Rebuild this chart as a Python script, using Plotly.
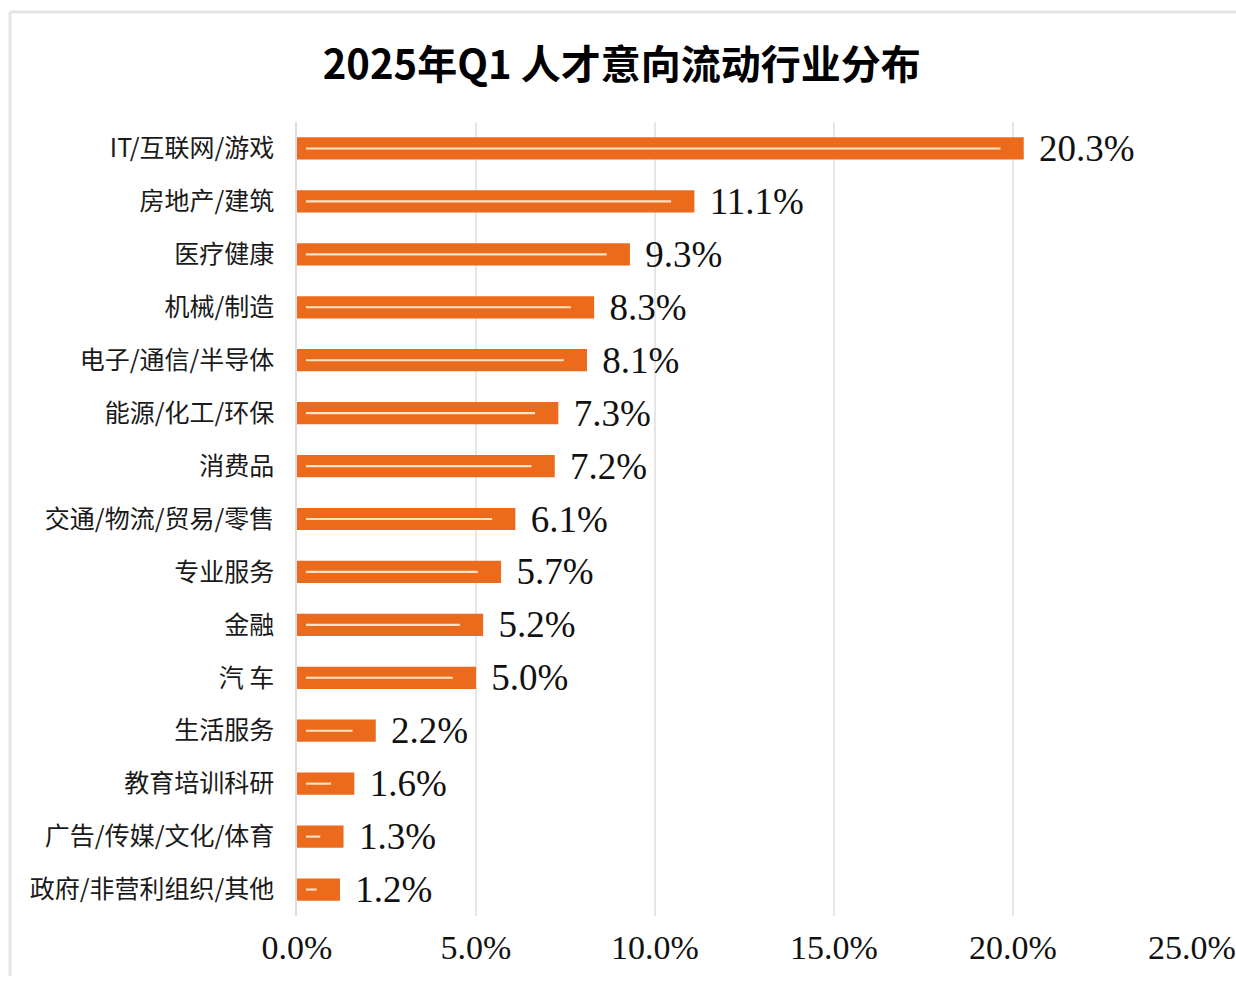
import plotly.graph_objects as go

categories = [
    "IT/互联网/游戏", "房地产/建筑", "医疗健康", "机械/制造", "电子/通信/半导体",
    "能源/化工/环保", "消费品", "交通/物流/贸易/零售", "专业服务", "金融",
    "汽 车", "生活服务", "教育培训科研", "广告/传媒/文化/体育", "政府/非营利组织/其他",
]
values = [20.3, 11.1, 9.3, 8.3, 8.1, 7.3, 7.2, 6.1, 5.7, 5.2, 5.0, 2.2, 1.6, 1.3, 1.2]
tick_vals = [0, 5, 10, 15, 20, 25]
tick_text = ["0.0%", "5.0%", "10.0%", "15.0%", "20.0%", "25.0%"]
title = "2025年Q1 人才意向流动行业分布"

bar_color = "#EC6A1C"

W, H = 1236, 981
ML, MR, MT, MB = 297, 44, 122, 65
PW, PH = W - ML - MR, H - MT - MB


def px_x(px):
    return (px - ML) / PW


def px_y(py):
    return 1 - (py - MT) / PH


fig = go.Figure()
fig.add_trace(go.Bar(
    y=categories, x=values, orientation="h",
    marker=dict(color=bar_color, line=dict(width=0)),
    width=0.42,
    text=[f"\u2004{v:.1f}%" for v in values],
    textposition="outside",
    constraintext="none",
    textfont=dict(family="Liberation Serif", size=37, color="#111111"),
    cliponaxis=False,
    hoverinfo="skip",
))
# thin light streak inside each bar
fig.add_trace(go.Bar(
    y=categories, x=[max(v - 0.9, 0.1) for v in values], base=0.25,
    orientation="h",
    marker=dict(color="#FCE3C4", line=dict(width=0)),
    width=0.04,
    hoverinfo="skip",
))

fig.update_layout(
    width=W, height=H,
    barmode="overlay",
    showlegend=False,
    paper_bgcolor="white", plot_bgcolor="white",
    margin=dict(l=ML, r=MR, t=MT, b=MB, autoexpand=False),
    title=dict(
        text=f"<b>{title}</b>",
        x=0.503, xanchor="center", y=1 - 65 / H, yanchor="middle",
        font=dict(family="Noto Sans CJK SC", size=40, color="#000000"),
    ),
    xaxis=dict(
        range=[0, 25], tickvals=tick_vals, ticktext=tick_text,
        showgrid=True, gridcolor="#E6E6E6", gridwidth=1.5,
        zeroline=False, showline=False, ticks="",
        tickfont=dict(family="Liberation Serif", size=34, color="#111111"),
        ticklabelstandoff=8, automargin=False,
    ),
    yaxis=dict(
        autorange="reversed", categoryorder="array", categoryarray=categories,
        showgrid=False, zeroline=False, ticks="",
        showline=True, linecolor="#DDDDDD", linewidth=1.5,
        tickfont=dict(family="Noto Sans CJK SC", size=25, color="#1a1a1a"),
        ticklabelstandoff=16, automargin=False,
    ),
    shapes=[
        dict(type="line", xref="paper", yref="paper", x0=px_x(10), x1=px_x(1236), y0=px_y(12), y1=px_y(12),
             line=dict(color="#E4E4E4", width=3)),
        dict(type="line", xref="paper", yref="paper", x0=px_x(10), x1=px_x(10), y0=px_y(976), y1=px_y(12),
             line=dict(color="#E4E4E4", width=3)),
    ],
)

fig.write_html("out.html", config={"displayModeBar": False},
               post_script="document.body.style.margin='0';")
